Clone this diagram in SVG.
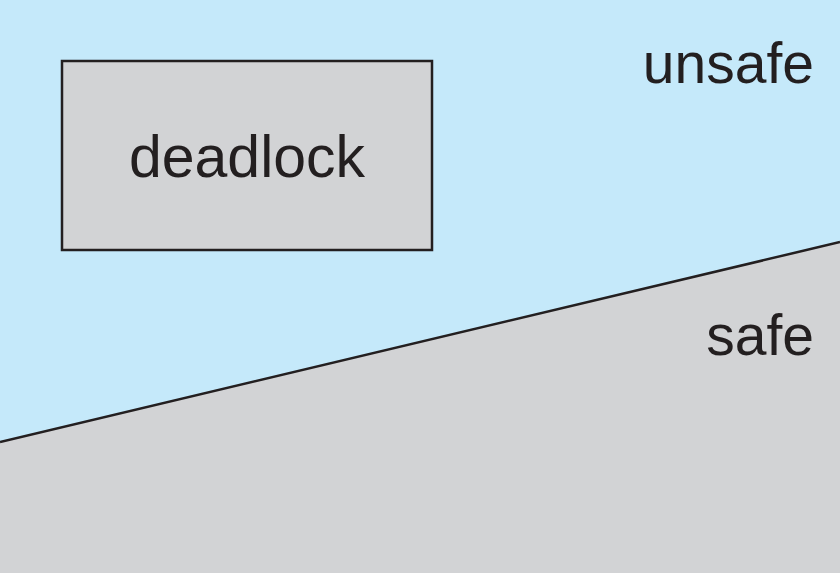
<svg xmlns="http://www.w3.org/2000/svg" width="840" height="573" viewBox="0 0 840 573">
<style>
.lbl{font-family:"Liberation Sans",Arial,sans-serif;font-size:57px;fill:#231f20}
</style>
<g id="unsafe-region">
<rect x="0" y="0" width="840" height="573" fill="#c5e9fa"/>
<text class="lbl" x="814" y="83" text-anchor="end">unsafe</text>
</g>
<g id="safe-region">
<polygon points="0,442 840,242 840,573 0,573" fill="#d2d3d5"/>
<line x1="0" y1="442" x2="840" y2="242" stroke="#231f20" stroke-width="2.5"/>
<text class="lbl" x="814" y="355" text-anchor="end">safe</text>
</g>
<g id="deadlock">
<rect x="62" y="61" width="370" height="189" fill="#d2d3d5" stroke="#231f20" stroke-width="2.5"/>
<text class="lbl" x="247" y="177" text-anchor="middle" style="font-size:59px">deadlock</text>
</g>
</svg>
